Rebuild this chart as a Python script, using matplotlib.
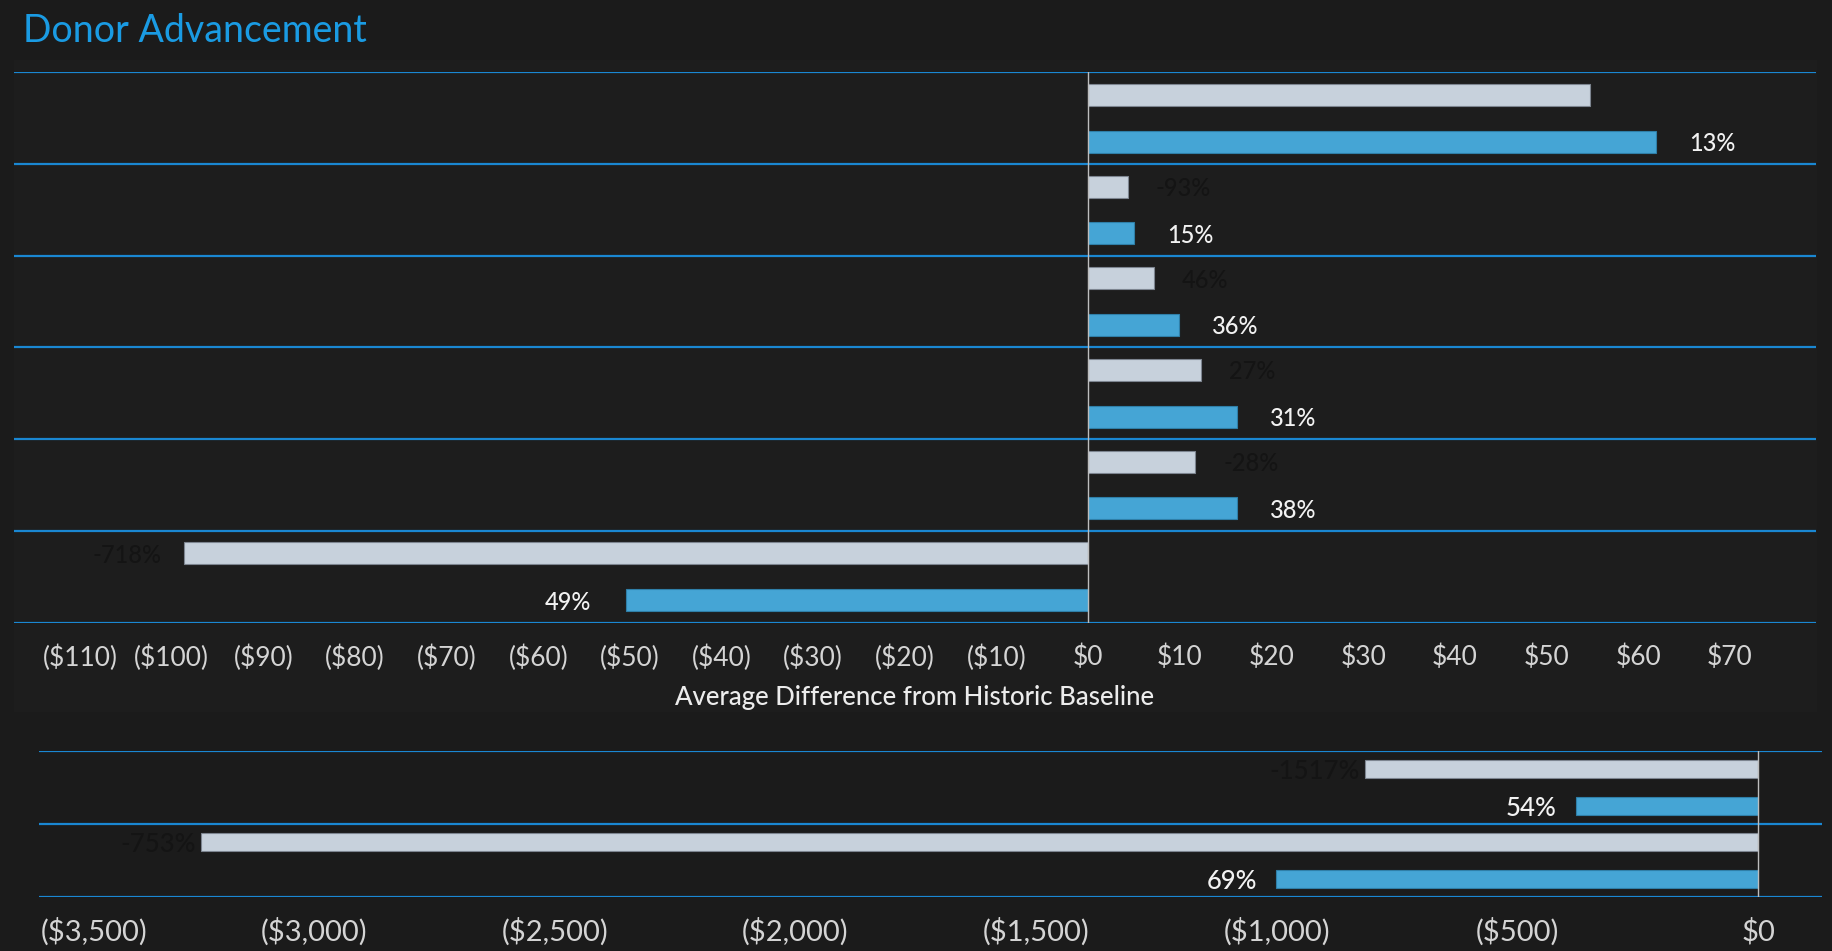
import matplotlib
matplotlib.use("Agg")
from matplotlib import pyplot as plt
from matplotlib.patches import Rectangle
import matplotlib.transforms as mtransforms
import numpy as np

# values (average difference in $)
top_grey = [54.7, 4.3, 7.2, 12.3, 11.7, -98.7]
top_blue = [61.9, 5.0, 9.9, 16.2, 16.2, -50.4]
top_grey_pct = ['', '-93%', '46%', '27%', '-28%', '-718%']
top_blue_pct = ['13%', '15%', '36%', '31%', '38%', '49%']
top_ticks = list(range(-110, 80, 10))

bottom_grey = [-816, -3235]
bottom_blue = [-379, -1001]
bottom_grey_pct = ['-1517%', '-753%']
bottom_blue_pct = ['54%', '69%']
bottom_ticks = list(range(-3500, 1, 500))

BG = '#1b1b1b'
GREY = '#c7d1dc'
BLUE = '#45a5d5'
SEP = '#1a87d2'
FONT = ['Lato', 'DejaVu Sans']

plt.rcParams['font.family'] = FONT


def money(v):
    s = '${:,.0f}'.format(abs(v))
    return '(' + s + ')' if v < 0 else s


def draw_panel(ax, grey, blue, grey_pct, blue_pct, ticks, xlim, tick_size, lab_size,
               grey_off, blue_off, pad):
    n = len(grey)
    y = np.arange(n)
    ax.set_facecolor('none')
    ax.barh(y - 0.255, grey, height=0.24, color=GREY, edgecolor='#7d8590', linewidth=0.8, zorder=3)
    ax.barh(y + 0.255, blue, height=0.24, color=BLUE, edgecolor='#2f7fa8', linewidth=0.8, zorder=3)
    for i in range(n):
        for val, txt, yy, col, offs in [(grey[i], grey_pct[i], y[i] - 0.255, '#141414', grey_off),
                                        (blue[i], blue_pct[i], y[i] + 0.255, '#f2f2f2', blue_off)]:
            if not txt:
                continue
            off = offs[0] if val >= 0 else -offs[1]
            ax.annotate(txt, (val, yy), xytext=(off, 0), textcoords='offset points',
                        ha='left' if val >= 0 else 'right', va='center_baseline',
                        color=col, fontsize=lab_size, fontweight='medium', zorder=4)
    for b in np.arange(n + 1) - 0.5:
        ax.axhline(b, color=SEP, lw=1.6, zorder=2)
    ax.axvline(0, color='#bdbdbd', lw=1.0, zorder=4)
    ax.set_ylim(n - 0.5, -0.5)
    ax.set_xlim(*xlim)
    ax.set_yticks([])
    ax.set_xticks(ticks)
    ax.set_xticklabels([money(t) for t in ticks])
    ax.tick_params(axis='x', length=0, colors='#d4d4d4', labelsize=tick_size, pad=pad)
    for s in ax.spines.values():
        s.set_visible(False)


fig = plt.figure(figsize=(18.32, 9.51), dpi=100)
fig.patch.set_facecolor(BG)

# subtle worksheet box behind the top panel
fig.patches.append(Rectangle((14 / 1832, 1 - 712 / 951), (1817 - 14) / 1832, (712 - 60) / 951,
                             transform=fig.transFigure, facecolor='#1d1d1d', edgecolor='none',
                             zorder=-5))

fig.text(23 / 1832, 1 - 31 / 951, 'Donor Advancement', color='#1a9be3', fontsize=27,
         ha='left', va='center')

ax1 = fig.add_axes([14 / 1832, 1 - 622.5 / 951, (1816 - 14) / 1832, (622.5 - 72.4) / 951])
draw_panel(ax1, top_grey, top_blue, top_grey_pct, top_blue_pct, top_ticks,
           (-117.2, 79.4), 19, 17, (20, 16), (24, 25), 16)
ax1.set_xlabel('Average Difference from Historic Baseline', color='#ececec', fontsize=18.5,
               fontweight='medium', labelpad=10)

ax2 = fig.add_axes([38.5 / 1832, 1 - 897 / 951, (1822 - 38.5) / 1832, (897 - 751) / 951])
draw_panel(ax2, bottom_grey, bottom_blue, bottom_grey_pct, bottom_blue_pct, bottom_ticks,
           (-3573, 133), 21, 18.5, (4, 4), (14, 14), 15)

# leftmost label is nudged inside the pane, as in the reference
first = ax2.get_xticklabels()[0]
first.set_transform(first.get_transform() +
                    mtransforms.ScaledTranslation(0.2, 0, fig.dpi_scale_trans))

fig.savefig('out.png', dpi=100, facecolor=BG)
